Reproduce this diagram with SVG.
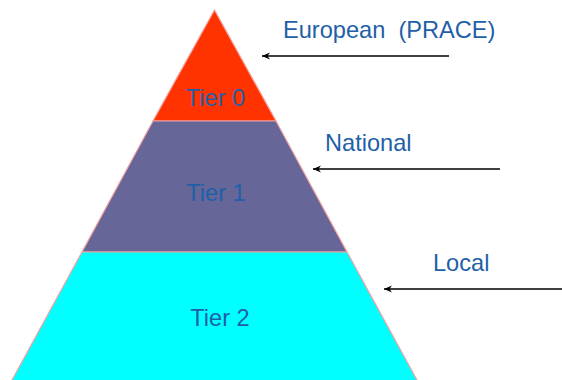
<svg xmlns="http://www.w3.org/2000/svg" width="562" height="380" viewBox="0 0 562 380">
<style>
.tier{stroke:#F4A0A0;stroke-width:1.2;stroke-linejoin:miter}
.lbl{font-family:"Liberation Sans",Arial,sans-serif;font-size:23.6px;fill:#1F5FA8}
.conn{stroke:#000;stroke-width:1.5;fill:none;marker-end:url(#ah)}
</style>
<defs>
<marker id="ah" markerWidth="9" markerHeight="8" refX="8" refY="4" orient="auto" markerUnits="userSpaceOnUse">
<path d="M0,0.5 L8,4 L0,7.5 L2.5,4 Z" fill="#000"/>
</marker>
</defs>
<rect width="562" height="380" fill="#fff"/>
<g id="tier0">
<polygon class="tier" points="214.5,10 276,121 153,121" fill="#FF3300"/>
<text class="lbl" x="215.5" y="106" text-anchor="middle">Tier 0</text>
</g>
<g id="tier1">
<polygon class="tier" points="153,121 276,121 347,252 82,252" fill="#666699"/>
<text class="lbl" x="216" y="201" text-anchor="middle">Tier 1</text>
</g>
<g id="tier2">
<polygon class="tier" points="82,252 347,252 418,382 11,382" fill="#00FFFF"/>
<text class="lbl" x="220" y="326" text-anchor="middle">Tier 2</text>
</g>
<g id="european">
<text class="lbl" x="283" y="38" xml:space="preserve">European  (PRACE)</text>
</g>
<g id="national">
<text class="lbl" x="325" y="151">National</text>
</g>
<g id="local">
<text class="lbl" x="433" y="271">Local</text>
</g>
<g id="connectors">
<line class="conn" x1="449" y1="56" x2="262" y2="56"/>
<line class="conn" x1="500" y1="169" x2="313" y2="169"/>
<line class="conn" x1="562" y1="289" x2="384" y2="289"/>
</g>
</svg>
